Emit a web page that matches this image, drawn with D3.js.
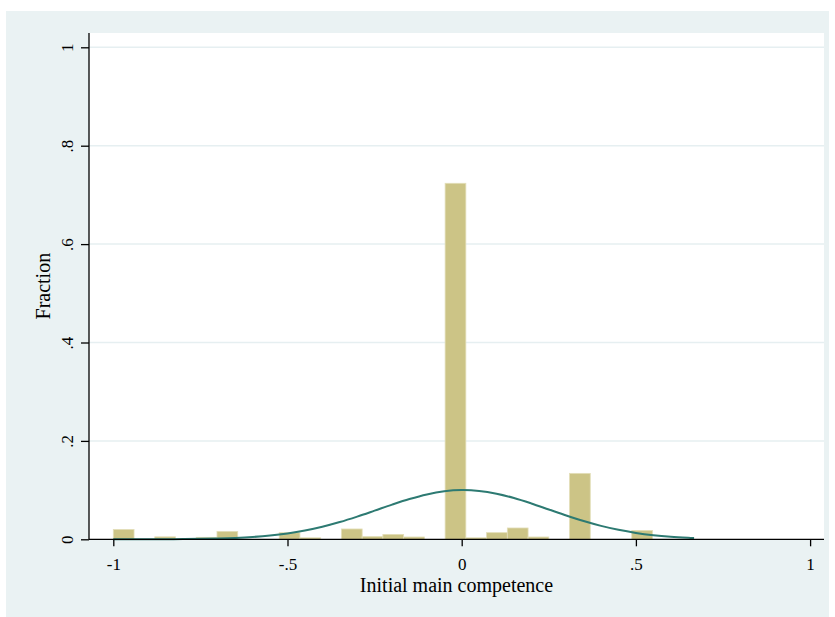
<!DOCTYPE html>
<html>
<head>
<meta charset="utf-8">
<script src="https://cdn.jsdelivr.net/npm/d3@7"></script>
<style>
  html, body { margin: 0; padding: 0; background: #ffffff; }
  svg { display: block; }
  text { font-family: "Liberation Serif", "Times New Roman", serif; fill: #000; }
</style>
</head>
<body>
<svg id="chart" width="835" height="617"></svg>
<script>
// ---- Data ----
const binWidth = 0.05952;
const binLeft = [-1, -0.8810, -0.7619, -0.7024, -0.5238, -0.4643, -0.3452, -0.2857, -0.2262, -0.1667,
                 -0.0476, 0.0119, 0.0714, 0.1310, 0.1905, 0.3095, 0.4881];
const binFraction = [0.020, 0.005, 0.004, 0.016, 0.0135, 0.003, 0.021, 0.0055, 0.010, 0.0047,
                     0.7236, 0.003, 0.0135, 0.023, 0.0047, 0.134, 0.018];

const curveX = [-1, -0.95, -0.9, -0.85, -0.8, -0.75, -0.7, -0.65, -0.6, -0.55, -0.5, -0.45, -0.4, -0.35,
                -0.3, -0.25, -0.2, -0.15, -0.1, -0.05, 0, 0.05, 0.1, 0.15, 0.2, 0.25, 0.3, 0.35, 0.4,
                0.45, 0.5, 0.55, 0.6, 0.65, 0.667];
const curveY = [0.00002, 0.00005, 0.00011, 0.00023, 0.00045, 0.00087, 0.00159, 0.0028, 0.00474, 0.00769,
                0.01195, 0.01783, 0.02551, 0.035, 0.04609, 0.05819, 0.07048, 0.08186, 0.09122, 0.09751,
                0.09998, 0.09833, 0.09276, 0.08394, 0.07285, 0.06065, 0.04844, 0.0371, 0.02726, 0.01922,
                0.01299, 0.00842, 0.00524, 0.00313, 0.0026];

const xTicks = [-1, -0.5, 0, 0.5, 1];
const xTickLabels = ["-1", "-.5", "0", ".5", "1"];
const yTicks = [0, 0.2, 0.4, 0.6, 0.8, 1];
const yTickLabels = ["0", ".2", ".4", ".6", ".8", "1"];

const xTitle = "Initial main competence";
const yTitle = "Fraction";

// ---- Layout ----
const svg = d3.select("#chart");
const plot = { left: 89, right: 824, top: 33, bottom: 539.3 };

const x = d3.scaleLinear().domain([-1, 1]).range([113.3, 810.1]);
const y = d3.scaleLinear().domain([0, 1]).range([539.3, 47.3]);

// outer graph region
svg.append("rect").attr("x", 6).attr("y", 11).attr("width", 823).attr("height", 606)
  .attr("fill", "#eaf2f3");
// plot region
svg.append("rect").attr("x", plot.left).attr("y", plot.top)
  .attr("width", plot.right - plot.left).attr("height", plot.bottom - plot.top)
  .attr("fill", "#ffffff");

// grid lines
svg.append("g").selectAll("line").data(yTicks.filter(d => d > 0)).join("line")
  .attr("x1", plot.left).attr("x2", plot.right)
  .attr("y1", d => y(d)).attr("y2", d => y(d))
  .attr("stroke", "#e6eff1").attr("stroke-width", 1.5);

// bars
svg.append("g").selectAll("rect").data(binLeft.map((l, i) => ({ l, f: binFraction[i] }))).join("rect")
  .attr("x", d => x(d.l))
  .attr("width", d => x(d.l + binWidth) - x(d.l))
  .attr("y", d => y(d.f))
  .attr("height", d => y(0) - y(d.f))
  .attr("fill", "#ccc486")
  .attr("stroke", "#e3deb8")
  .attr("stroke-width", 0.8);

// normal curve
const line = d3.line().x(d => x(d[0])).y(d => y(d[1])).curve(d3.curveCatmullRom);
svg.append("path").datum(curveX.map((v, i) => [v, curveY[i]]))
  .attr("d", line).attr("fill", "none")
  .attr("stroke", "#2d7a72").attr("stroke-width", 2);

// x axis
const xAxis = svg.append("g").attr("transform", `translate(0,${plot.bottom})`)
  .call(d3.axisBottom(x).tickValues(xTicks).tickSize(7).tickSizeOuter(0)
    .tickFormat((d, i) => xTickLabels[i]));
xAxis.select(".domain").attr("d", `M${plot.left},0H${plot.right}`).attr("stroke", "#000").attr("stroke-width", 1.3);
xAxis.selectAll(".tick line").attr("stroke", "#000").attr("stroke-width", 1.3);
xAxis.selectAll(".tick text").attr("y", 31).attr("dy", 0)
  .style("font-family", '"Liberation Serif", "Times New Roman", serif').style("font-size", "17px").attr("fill", "#000");

// y axis
const yAxis = svg.append("g").attr("transform", `translate(${plot.left},0)`)
  .call(d3.axisLeft(y).tickValues(yTicks).tickSize(8).tickSizeOuter(0)
    .tickFormat((d, i) => yTickLabels[i]));
yAxis.select(".domain").attr("d", `M0,${plot.top}V${plot.bottom}`).attr("stroke", "#000").attr("stroke-width", 1.3);
yAxis.selectAll(".tick line").attr("stroke", "#000").attr("stroke-width", 1.3);
yAxis.selectAll(".tick text").attr("x", 0).attr("dy", 0)
  .attr("transform", "translate(-16,0) rotate(-90)")
  .attr("text-anchor", "middle")
  .style("font-family", '"Liberation Serif", "Times New Roman", serif').style("font-size", "17px").attr("fill", "#000");

// titles
svg.append("text").attr("x", (plot.left + plot.right) / 2).attr("y", 592)
  .attr("text-anchor", "middle").style("font-size", "20px").text(xTitle);
svg.append("text").attr("transform", `translate(50,${(plot.top + plot.bottom) / 2}) rotate(-90)`)
  .attr("text-anchor", "middle").style("font-size", "20px").text(yTitle);
</script>
</body>
</html>
